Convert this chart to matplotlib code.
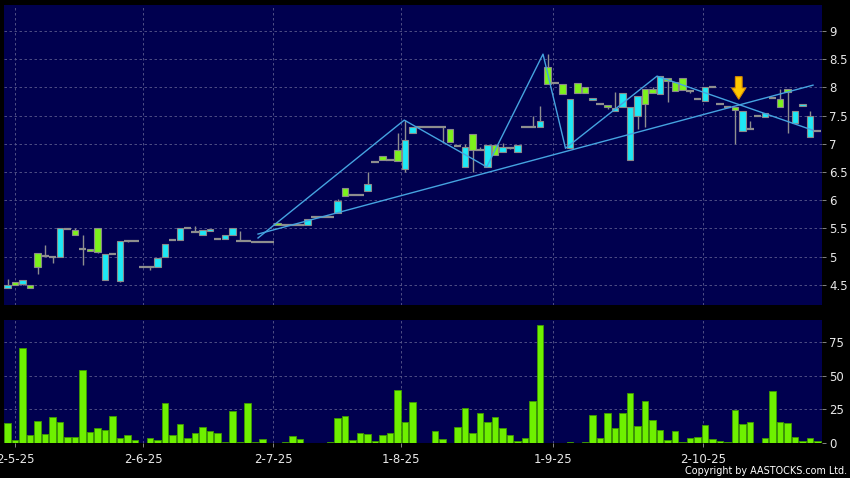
import matplotlib
matplotlib.use("Agg")
import matplotlib.pyplot as plt
import numpy as np
from matplotlib.patches import FancyArrow

# ---------------- data ----------------
opens = [4.50, 4.50, 4.58, 4.44, 4.82, 5.01, 5.00, 5.50, 5.49, 5.39,
         5.13, 5.10, 5.08, 5.05, 5.05, 5.28, 5.28, 5.28, 4.815, 4.815,
         4.98, 5.22, 5.30, 5.50, 5.50, 5.44, 5.47, 5.49, 5.315, 5.375,
         5.50, 5.28, 5.28, 5.26, 5.26, 5.26, 5.555, 5.56, 5.56, 5.56,
         5.66, 5.70, 5.70, 5.70, 5.99, 6.08, 6.09, 6.10, 6.29, 6.67,
         6.72, 6.71, 6.70, 7.06, 7.29, 7.29, 7.29, 7.29, 7.29, 7.04,
         6.96, 6.95, 6.89, 6.89, 6.98, 6.80, 6.95, 6.93, 6.98, 7.29,
         7.29, 7.40, 8.055, 8.07, 7.88, 7.80, 7.895, 7.895, 7.82, 7.706,
         7.65, 7.64, 7.895, 7.66, 7.85, 7.706, 7.895, 8.20, 8.11, 7.94,
         7.95, 7.94, 7.79, 8.00, 8.00, 7.706, 7.66, 7.594, 7.587, 7.262,
         7.49, 7.54, 7.81, 7.647, 7.924, 7.58, 7.706, 7.50, 7.232]
closes = [4.44, 4.55, 4.52, 4.50, 5.07, 5.01, 5.00, 5.00, 5.49, 5.48,
          5.13, 5.14, 5.50, 4.58, 5.05, 4.57, 5.28, 5.28, 4.815, 4.815,
          4.82, 5.00, 5.30, 5.30, 5.50, 5.44, 5.39, 5.46, 5.315, 5.32,
          5.39, 5.28, 5.28, 5.26, 5.26, 5.26, 5.59, 5.56, 5.56, 5.56,
          5.56, 5.70, 5.70, 5.70, 5.78, 6.21, 6.09, 6.10, 6.16, 6.67,
          6.78, 6.71, 6.89, 6.55, 7.19, 7.29, 7.29, 7.29, 7.29, 7.26,
          6.96, 6.58, 7.17, 6.89, 6.59, 6.97, 6.85, 6.93, 6.86, 7.29,
          7.29, 7.29, 8.356, 8.07, 8.055, 6.92, 8.08, 8.00, 7.77, 7.706,
          7.69, 7.59, 7.66, 6.71, 7.49, 7.977, 7.966, 7.88, 8.17, 8.10,
          8.16, 7.94, 7.79, 7.764, 8.00, 7.706, 7.66, 7.65, 7.232, 7.262,
          7.49, 7.47, 7.81, 7.80, 7.966, 7.36, 7.67, 7.115, 7.232]
highs = [4.60, 4.55, 4.58, 4.50, 5.07, 5.20, 5.00, 5.50, 5.49, 5.50,
         5.38, 5.14, 5.50, 5.05, 5.05, 5.28, 5.28, 5.28, 4.815, 4.815,
         4.98, 5.22, 5.30, 5.50, 5.50, 5.55, 5.47, 5.49, 5.315, 5.375,
         5.50, 5.45, 5.28, 5.26, 5.26, 5.26, 5.59, 5.56, 5.56, 5.56,
         5.66, 5.70, 5.70, 5.70, 6.02, 6.21, 6.09, 6.10, 6.50, 6.67,
         6.78, 6.71, 7.19, 7.42, 7.29, 7.29, 7.29, 7.29, 7.29, 7.26,
         6.96, 6.99, 7.17, 6.95, 6.98, 6.97, 7.02, 6.93, 6.98, 7.29,
         7.49, 7.67, 8.59, 8.07, 8.055, 7.80, 8.08, 8.00, 7.82, 7.706,
         7.69, 7.91, 7.895, 7.66, 7.85, 7.977, 8.00, 8.20, 8.17, 8.10,
         8.16, 7.94, 7.79, 8.00, 8.00, 7.706, 7.66, 7.65, 7.587, 7.404,
         7.49, 7.54, 7.81, 7.97, 7.966, 7.58, 7.706, 7.587, 7.232]
lows = [4.44, 4.50, 4.50, 4.44, 4.70, 5.01, 4.89, 5.00, 5.49, 5.39,
        4.85, 5.10, 5.07, 4.58, 5.05, 4.55, 5.26, 5.28, 4.815, 4.76,
        4.82, 5.00, 5.30, 5.30, 5.50, 5.44, 5.39, 5.46, 5.315, 5.32,
        5.39, 5.28, 5.28, 5.26, 5.26, 5.26, 5.555, 5.56, 5.56, 5.56,
        5.56, 5.70, 5.70, 5.70, 5.78, 6.08, 6.09, 6.10, 6.16, 6.67,
        6.72, 6.71, 6.70, 6.50, 7.19, 7.29, 7.29, 7.29, 7.01, 7.04,
        6.96, 6.58, 6.50, 6.89, 6.59, 6.80, 6.85, 6.90, 6.86, 7.29,
        7.29, 7.29, 8.055, 8.07, 7.88, 6.92, 7.895, 7.895, 7.77, 7.706,
        7.62, 7.59, 7.66, 6.71, 7.26, 7.29, 7.895, 7.88, 7.75, 7.94,
        7.95, 7.90, 7.79, 7.764, 8.00, 7.706, 7.66, 7.00, 7.232, 7.262,
        7.49, 7.47, 7.81, 7.647, 7.20, 7.36, 7.67, 7.115, 7.232]
volumes = [14.6, 2.0, 71.1, 6.2, 16.5, 6.9, 19.7, 15.5, 4.2, 4.7,
           54.5, 8.4, 11.1, 9.9, 20.2, 3.9, 5.7, 2.0, 0.0, 3.7,
           2.2, 30.1, 5.9, 14.3, 3.9, 7.4, 11.8, 9.1, 7.4, 0.7,
           24.2, 0.7, 30.1, 1.0, 3.2, 0.0, 0.0, 1.0, 5.2, 3.2,
           0.2, 0.0, 0.0, 0.7, 18.3, 20.2, 2.0, 7.2, 6.7, 1.7,
           6.2, 7.4, 39.5, 15.3, 30.6, 0.0, 0.0, 8.6, 3.2, 0.0,
           11.8, 25.9, 7.4, 22.5, 15.5, 19.3, 11.4, 5.9, 1.5, 3.9,
           31.3, 87.6, 0.0, 0.2, 0.0, 1.0, 0.0, 0.7, 20.5, 3.9,
           22.5, 11.4, 22.2, 37.3, 12.3, 31.1, 17.3, 9.4, 2.5, 9.1,
           1.0, 3.7, 4.7, 13.3, 3.2, 1.2, 0.5, 24.4, 14.1, 16.0,
           0.0, 3.5, 38.7, 15.8, 15.1, 4.2, 1.5, 3.5, 1.2]

date_labels = ["2-5-25", "2-6-25", "2-7-25", "1-8-25", "1-9-25", "2-10-25"]
date_pos = [1.05, 18.1, 35.4, 52.5, 72.7, 92.7]

price_ticks = [4.5, 5, 5.5, 6, 6.5, 7, 7.5, 8, 8.5, 9]
vol_ticks = [0, 25, 50, 75]

# trend lines (bar index, price)
zigzag_x = [33.4, 52.9, 63.9, 71.4, 74.4, 86.6, 107.4]
zigzag_y = [5.33, 7.42, 6.59, 8.59, 6.92, 8.20, 7.24]
support_x = [33.4, 107.4]
support_y = [5.40, 8.04]

arrow_idx, arrow_top, arrow_bottom = 97.5, 8.19, 7.79

# ---------------- style ----------------
BG = "#00004f"
GRID = "#5a5a8c"
CYAN = "#1ee8f5"
GREEN = "#7df21c"
DOJI = "#8e8e8e"
EDGE = "#8a8a8a"
LINE = "#45a3e0"
TXT = "#e8e8e8"

fig = plt.figure(figsize=(8.5, 4.78), dpi=100, facecolor="black")
W, H = 850, 478
ax = fig.add_axes([4 / W, 1 - 305 / H, 818 / W, 300 / H], facecolor=BG)
axv = fig.add_axes([4 / W, 1 - 443 / H, 818 / W, 123 / H], facecolor=BG)

n = len(closes)
x = np.arange(n)
o = np.array(opens); c = np.array(closes)
hi = np.array(highs); lo = np.array(lows)

# wicks
ax.vlines(x, lo, hi, color=DOJI, lw=1.0, zorder=2)
# bodies
up = c > o
dn = c < o
eq = c == o
bw = 0.85
ax.bar(x[up], (c - o)[up], bottom=o[up], width=bw, color=GREEN,
       edgecolor=EDGE, linewidth=0.8, zorder=3)
ax.bar(x[dn], (o - c)[dn], bottom=c[dn], width=bw, color=CYAN,
       edgecolor=EDGE, linewidth=0.8, zorder=3)
ax.hlines(c[eq], x[eq] - 0.47, x[eq] + 0.47, color=DOJI, lw=1.6, zorder=3)

# trend lines
ax.plot(zigzag_x, zigzag_y, color=LINE, lw=1.0, zorder=4)
ax.plot(support_x, support_y, color=LINE, lw=1.0, zorder=4)

# arrow
ax.add_patch(FancyArrow(arrow_idx, arrow_top, 0, arrow_bottom - arrow_top,
                        width=0.9, head_width=1.9, head_length=0.2,
                        length_includes_head=True, facecolor="#ffc800",
                        edgecolor="#d88a00", linewidth=0.8, zorder=6))

# volume
axv.bar(x, volumes, width=0.87, color="#6ef000", edgecolor="#3f9a00",
        linewidth=0.6, zorder=3)

xl = (-0.47, 108.6)
for a in (ax, axv):
    a.set_xlim(*xl)
    a.yaxis.tick_right()
    a.set_xticks(date_pos)
    for s in a.spines.values():
        s.set_visible(False)
    a.grid(True, color=GRID, ls=(0, (3, 3)), lw=0.6, zorder=0)
    a.tick_params(colors=TXT, labelsize=8.5, length=3, width=0.6,
                  color="#9a9a9a", pad=2)

ax.set_ylim(4.142, 9.461)
ax.set_yticks(price_ticks)
ax.set_yticklabels(["%g" % t for t in price_ticks])
ax.set_xticklabels([])
ax.tick_params(axis="x", length=0)

axv.set_ylim(0, 91.6)
axv.set_yticks(vol_ticks)
axv.set_yticklabels([str(t) for t in vol_ticks])
axv.set_xticklabels(date_labels)
axv.tick_params(axis="x", pad=4)

fig.text(847 / W, 1 - 471 / H, "Copyright by AASTOCKS.com Ltd.", color="white",
         fontsize=6.9, ha="right", va="center")

fig.savefig("out.png", dpi=100, facecolor="black")
